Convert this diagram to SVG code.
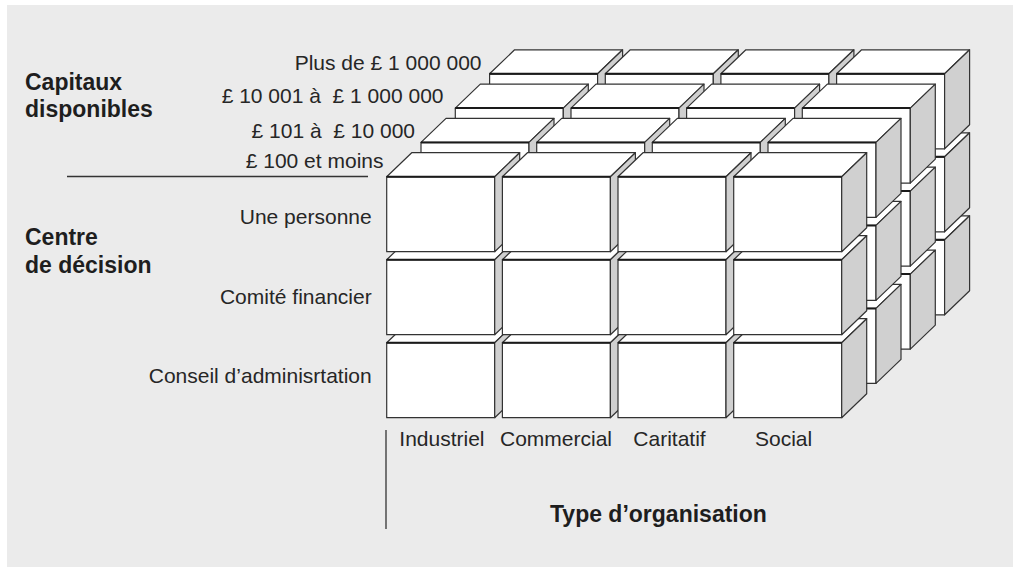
<svg xmlns="http://www.w3.org/2000/svg" xmlns:xlink="http://www.w3.org/1999/xlink" width="1013" height="567" viewBox="0 0 1013 567">
<style>
.bg{fill:#ebebeb}
.face{fill:#ffffff;stroke:#333;stroke-width:1.2;stroke-linejoin:round}
.side{fill:#d0d0d0;stroke:#333;stroke-width:1.2;stroke-linejoin:round}
.edge{stroke:#1a1a1a;stroke-width:2;fill:none}
.rule{stroke:#333;stroke-width:1.3;fill:none}
.t{font-family:"Liberation Sans",Arial,sans-serif;font-size:21px;fill:#262626}
.b{font-family:"Liberation Sans",Arial,sans-serif;font-size:23px;font-weight:bold;fill:#1e1e1e}
.e{text-anchor:end}
</style>
<defs>
<g id="cube">
<rect class="face" x="0" y="0" width="108" height="75"/>
<polygon class="face" points="0,0 108,0 133,-24 25,-24"/>
<polygon class="side" points="108,0 133,-24 133,51 108,75"/>
<line class="edge" x1="0" y1="0" x2="108" y2="0"/>
</g>
</defs>
<rect class="bg" x="7" y="5" width="1006" height="562"/>

<g id="labels">
<text class="b" x="25" y="90">Capitaux</text>
<text class="b" x="25" y="117">disponibles</text>
<text class="b" x="25" y="245">Centre</text>
<text class="b" x="25" y="272.5">de décision</text>
<text class="b" x="550" y="521.5">Type d’organisation</text>
<text class="t e" x="481.5" y="70">Plus de £ 1 000 000</text>
<text class="t e" x="443.5" y="103.3">£ 10 001 à&#160; £ 1 000 000</text>
<text class="t e" x="415" y="137.7">£ 101 à&#160; £ 10 000</text>
<text class="t e" x="383.5" y="168.3">£ 100 et moins</text>
<text class="t e" x="371.7" y="224.3">Une personne</text>
<text class="t e" x="371.7" y="304.3">Comité financier</text>
<text class="t e" x="371.7" y="382.7">Conseil d’adminisrtation</text>
<text class="t" x="399.3" y="445.7">Industriel</text>
<text class="t" x="500" y="445.7">Commercial</text>
<text class="t" x="633.3" y="445.7">Caritatif</text>
<text class="t" x="755" y="445.7">Social</text>
</g>

<g id="connectors">
<line class="rule" x1="67" y1="176.5" x2="368" y2="176.5"/>
<line class="rule" x1="386" y1="430" x2="386" y2="529"/>
</g>

<g id="layer3">
<g id="c-d3-r2-c0"><use href="#cube" x="489.6" y="239.8"/></g>
<g id="c-d3-r2-c1"><use href="#cube" x="605.3" y="239.8"/></g>
<g id="c-d3-r2-c2"><use href="#cube" x="720.9" y="239.8"/></g>
<g id="c-d3-r2-c3"><use href="#cube" x="836.6" y="239.8"/></g>
<g id="c-d3-r1-c0"><use href="#cube" x="489.6" y="156.8"/></g>
<g id="c-d3-r1-c1"><use href="#cube" x="605.3" y="156.8"/></g>
<g id="c-d3-r1-c2"><use href="#cube" x="720.9" y="156.8"/></g>
<g id="c-d3-r1-c3"><use href="#cube" x="836.6" y="156.8"/></g>
<g id="c-d3-r0-c0"><use href="#cube" x="489.6" y="73.8"/></g>
<g id="c-d3-r0-c1"><use href="#cube" x="605.3" y="73.8"/></g>
<g id="c-d3-r0-c2"><use href="#cube" x="720.9" y="73.8"/></g>
<g id="c-d3-r0-c3"><use href="#cube" x="836.6" y="73.8"/></g>
</g>
<g id="layer2">
<g id="c-d2-r2-c0"><use href="#cube" x="455.3" y="274.1"/></g>
<g id="c-d2-r2-c1"><use href="#cube" x="571.0" y="274.1"/></g>
<g id="c-d2-r2-c2"><use href="#cube" x="686.6" y="274.1"/></g>
<g id="c-d2-r2-c3"><use href="#cube" x="802.3" y="274.1"/></g>
<g id="c-d2-r1-c0"><use href="#cube" x="455.3" y="191.1"/></g>
<g id="c-d2-r1-c1"><use href="#cube" x="571.0" y="191.1"/></g>
<g id="c-d2-r1-c2"><use href="#cube" x="686.6" y="191.1"/></g>
<g id="c-d2-r1-c3"><use href="#cube" x="802.3" y="191.1"/></g>
<g id="c-d2-r0-c0"><use href="#cube" x="455.3" y="108.1"/></g>
<g id="c-d2-r0-c1"><use href="#cube" x="571.0" y="108.1"/></g>
<g id="c-d2-r0-c2"><use href="#cube" x="686.6" y="108.1"/></g>
<g id="c-d2-r0-c3"><use href="#cube" x="802.3" y="108.1"/></g>
</g>
<g id="layer1">
<g id="c-d1-r2-c0"><use href="#cube" x="421.0" y="308.4"/></g>
<g id="c-d1-r2-c1"><use href="#cube" x="536.7" y="308.4"/></g>
<g id="c-d1-r2-c2"><use href="#cube" x="652.3" y="308.4"/></g>
<g id="c-d1-r2-c3"><use href="#cube" x="768.0" y="308.4"/></g>
<g id="c-d1-r1-c0"><use href="#cube" x="421.0" y="225.4"/></g>
<g id="c-d1-r1-c1"><use href="#cube" x="536.7" y="225.4"/></g>
<g id="c-d1-r1-c2"><use href="#cube" x="652.3" y="225.4"/></g>
<g id="c-d1-r1-c3"><use href="#cube" x="768.0" y="225.4"/></g>
<g id="c-d1-r0-c0"><use href="#cube" x="421.0" y="142.4"/></g>
<g id="c-d1-r0-c1"><use href="#cube" x="536.7" y="142.4"/></g>
<g id="c-d1-r0-c2"><use href="#cube" x="652.3" y="142.4"/></g>
<g id="c-d1-r0-c3"><use href="#cube" x="768.0" y="142.4"/></g>
</g>
<g id="layer0">
<g id="c-d0-r2-c0"><use href="#cube" x="386.7" y="342.7"/></g>
<g id="c-d0-r2-c1"><use href="#cube" x="502.4" y="342.7"/></g>
<g id="c-d0-r2-c2"><use href="#cube" x="618.0" y="342.7"/></g>
<g id="c-d0-r2-c3"><use href="#cube" x="733.7" y="342.7"/></g>
<g id="c-d0-r1-c0"><use href="#cube" x="386.7" y="259.7"/></g>
<g id="c-d0-r1-c1"><use href="#cube" x="502.4" y="259.7"/></g>
<g id="c-d0-r1-c2"><use href="#cube" x="618.0" y="259.7"/></g>
<g id="c-d0-r1-c3"><use href="#cube" x="733.7" y="259.7"/></g>
<g id="c-d0-r0-c0"><use href="#cube" x="386.7" y="176.7"/></g>
<g id="c-d0-r0-c1"><use href="#cube" x="502.4" y="176.7"/></g>
<g id="c-d0-r0-c2"><use href="#cube" x="618.0" y="176.7"/></g>
<g id="c-d0-r0-c3"><use href="#cube" x="733.7" y="176.7"/></g>
</g>
</svg>
